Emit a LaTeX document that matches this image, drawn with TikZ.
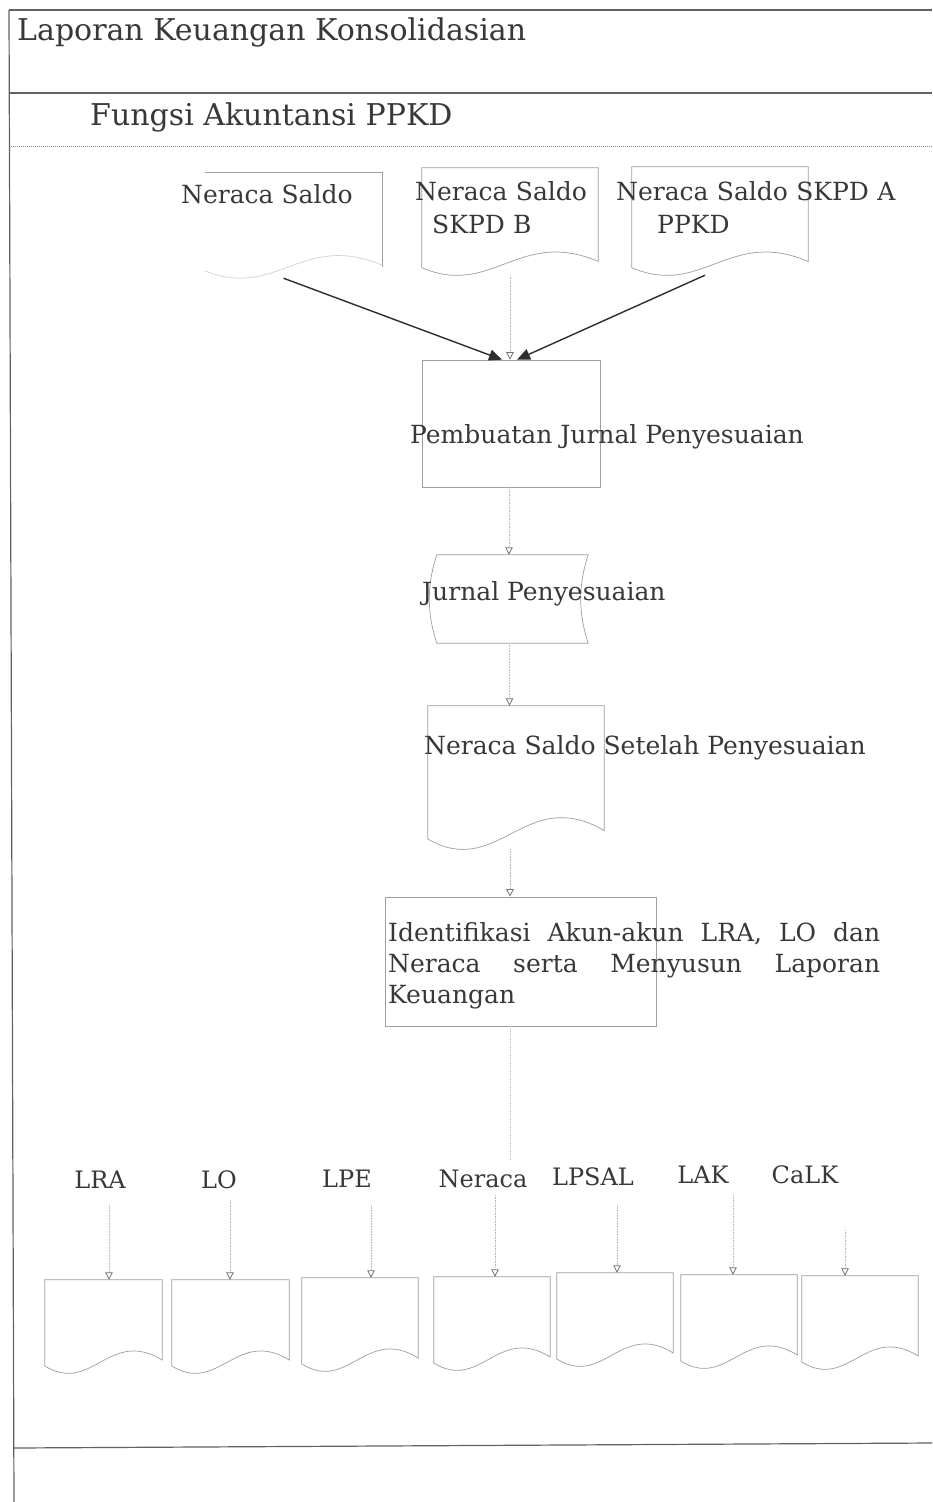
\documentclass[tikz,border=0pt]{standalone}
\usepackage{fontspec}
\setmainfont{DejaVu Serif}
\usetikzlibrary{calc,arrows.meta}

% document symbol outline: straight top and sides, wavy bottom
\newcommand\docoutline[3][]{%
  \draw[docline,#1] ($(#2.south west)+(0,0.3*#3)$) -- (#2.north west) -- (#2.north east)
    -- ($(#2.south east)+(0,0.55*#3)$)
    .. controls ($(#2.south west)!0.55!(#2.south east)+(0,1.9*#3)$)
           and ($(#2.south west)!0.4!(#2.south east)+(0,-0.9*#3)$)
    .. ($(#2.south west)+(0,0.3*#3)$);%
}

\tikzset{
  frame/.style={draw=black!62, line width=1.2pt},
  docline/.style={draw=black!38, line width=0.7pt},
  docbox/.style={draw=none, inner sep=0pt},
  procbox/.style={draw=black!38, line width=0.7pt, inner sep=0pt},
  txt/.style={text=black!78, inner sep=0pt, font=\fontsize{25}{31}\selectfont},
  smalltxt/.style={text=black!78, inner sep=0pt, font=\fontsize{24}{30}\selectfont},
  headtxt/.style={text=black!78, inner sep=0pt, font=\fontsize{30}{35}\selectfont},
  flow/.style={draw=black!28, densely dotted, line width=0.6pt,
    -{Triangle[open,length=7.5pt,width=7.5pt,black!55,line width=0.8pt]}},
  flowline/.style={draw=black!22, densely dotted, line width=0.6pt},
  feed/.style={draw=black!82, line width=1.4pt,
    -{Triangle[length=13pt,width=11pt]}},
}

\begin{document}
\begin{tikzpicture}[x=1pt,y=1pt]
\useasboundingbox (0,0) rectangle (932,-1502);
\fill[white] (0,0) rectangle (932,-1502);

% swimlane frame
\draw[frame] (9,-10) -- (932,-10);
\draw[frame] (9,-10) -- (14,-1502);
\draw[frame] (10,-93) -- (932,-93);
\draw[draw=black!45, densely dotted, line width=1pt] (11,-146) -- (932,-146);
\draw[frame] (14,-1448) -- (932,-1443);

\node[headtxt, anchor=base west] (lane) at (17,-40) {Laporan Keuangan Konsolidasian};
\node[headtxt, anchor=base west] (unit) at (90,-125) {Fungsi Akuntansi PPKD};

% input trial balances
\node[docbox, minimum width=177pt, minimum height=105pt] (nsl) at (293.5,-225.5) {};
\draw[docline] (nsl.north west) -- (nsl.north east) -- ($(nsl.south east)+(0,11)$);
\draw[docline, draw=black!18] ($(nsl.south west)+(0,7.5)$)
    .. controls ($(nsl.south west)!0.4!(nsl.south east)+(0,-22)$)
           and ($(nsl.south west)!0.55!(nsl.south east)+(0,47)$)
    .. ($(nsl.south east)+(0,13)$);
\node[txt, anchor=base west] (nsltext) at (181,-203) {Neraca Saldo};

\node[docbox, minimum width=176pt, minimum height=107pt] (nsb) at (510,-221.5) {};
\docoutline{nsb}{25}
\node[txt, anchor=base west, text width=200pt, align=left] (nsbtext) at (415,-200)
  {Neraca Saldo\\[2pt]\hspace*{17pt}SKPD B};

\node[docbox, minimum width=176pt, minimum height=108pt] (nsa) at (720,-221) {};
\docoutline{nsa}{25}
\node[txt, anchor=base west, text width=300pt, align=left] (nsatext) at (616,-200)
  {Neraca Saldo SKPD A\\[2pt]\hspace*{41pt}PPKD};

% adjusting journal entries
\node[procbox, minimum width=178pt, minimum height=127pt] (pjp) at (511,-423.5) {};
\node[txt] (pjptext) at (607,-437) {Pembuatan Jurnal Penyesuaian};

\draw[feed] ([xshift=-10pt]nsl.south) -- ([xshift=-9pt]pjp.north);
\draw[feed] ([xshift=-15pt]nsa.south) -- ([xshift=6pt]pjp.north);
\draw[flow] (nsb.south) -- (nsb.south |- pjp.north);

% adjusting journal (stored data)
\node[docbox, minimum width=151pt, minimum height=88pt] (jp) at (512.5,-599) {};
\draw[docline] (jp.north west) -- (jp.north east)
  .. controls ($(jp.north east)+(-10,-30)$) and ($(jp.south east)+(-10,30)$) .. (jp.south east)
  -- (jp.south west)
  .. controls ($(jp.south west)+(-10,30)$) and ($(jp.north west)+(-10,-30)$) .. (jp.north west);
\node[txt, anchor=base west] (jptext) at (422,-600) {Jurnal Penyesuaian};
\draw[flow] ([xshift=-2pt]pjp.south) -- ([xshift=-2pt]pjp.south |- jp.north);

% adjusted trial balance
\node[docbox, minimum width=176pt, minimum height=143pt] (nssp) at (516,-777.5) {};
\docoutline{nssp}{34}
\node[txt, anchor=base west] (nssptext) at (424,-754) {Neraca Saldo Setelah Penyesuaian};
\draw[flow] ([xshift=-3pt]jp.south) -- ([xshift=-3pt]jp.south |- nssp.north);

% identification and compilation
\node[procbox, minimum width=271pt, minimum height=129pt] (idb) at (520.5,-961.5) {};
\node[txt, anchor=base west, text width=492pt, align=justify] (idbtext) at (388,-941)
  {Identifikasi Akun-akun LRA, LO dan\linebreak Neraca serta Menyusun Laporan\linebreak Keuangan};
\draw[flow] ([xshift=-6pt]nssp.south) -- ([xshift=-6pt]nssp.south |- idb.north);
\coordinate (tail) at (510,-1160);
\draw[flowline] (idb.south -| tail) -- (tail);

% output reports
\foreach \nm/\xl/\xr/\yt/\lab/\lx/\ly/\ax/\ys in {
  lra/45/162/1280/LRA/100/1188/109/1205,
  lo/172/289/1280/LO/219/1188/230/1200,
  lpe/302/418/1278/LPE/347/1187/371/1205,
  ner/434/550/1277/Neraca/483/1187/495/1195,
  lpsal/557/673/1273/LPSAL/593/1185/617/1205,
  lak/681/797/1275/LAK/703/1183/733/1195,
  calk/802/918/1276/CaLK/805/1183/845/1230}
{
  \node[docbox, minimum width={(\xr-\xl)*1pt}, minimum height=93pt] (\nm-doc)
    at ({(\xl+\xr)/2},{-\yt-46.5}) {};
  \docoutline{\nm-doc}{24}
  \node[smalltxt, anchor=base] (\nm) at (\lx,-\ly) {\lab};
  \coordinate (\nm-in) at (\ax,-\ys);
  \draw[flow] (\nm-in) -- (\nm-in |- \nm-doc.north);
}
\end{tikzpicture}
\end{document}
